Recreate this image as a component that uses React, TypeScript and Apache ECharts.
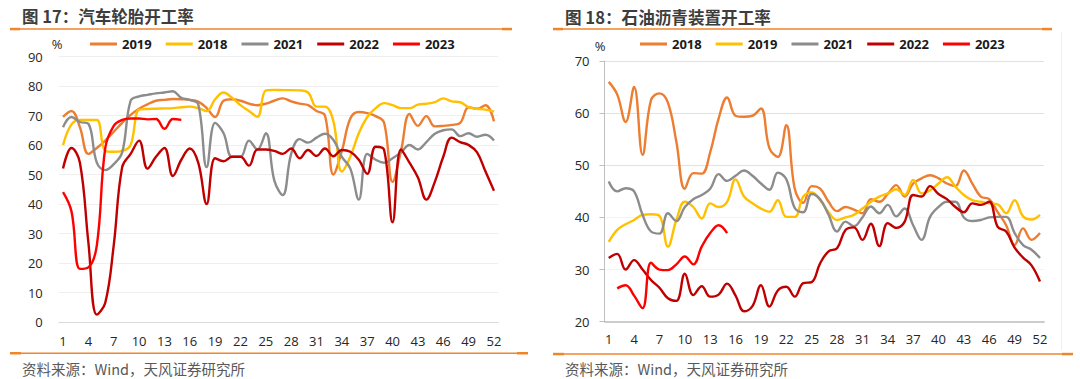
import React, { useEffect, useRef } from 'react';
import * as echarts from 'echarts';

const weeks = ['1','2','3','4','5','6','7','8','9','10','11','12','13','14','15','16','17','18','19','20','21','22','23','24','25','26','27','28','29','30','31','32','33','34','35','36','37','38','39','40','41','42','43','44','45','46','47','48','49','50','51','52'];

// 图17 汽车轮胎开工率 (%)
const tireNames = ['2019', '2018', '2021', '2022', '2023'];
const tire2019 = [69.5,71.5,66,57,59,61.5,64.5,67.5,70.2,72.3,73.8,75,75.3,75.6,75.5,75.3,74.7,72.5,69.5,75,75.5,75,74,73.5,74,75,75.8,74.8,74,73.5,71.5,70,50,58,69,71.2,70.8,69.8,67.5,47.5,58,70.5,66.5,69.8,66.3,66.5,66.8,67.5,72.8,72.3,73.5,68];
const tire2018 = [60,67,68.5,68.5,68.5,58,57.7,58,60,72,72.2,72.3,72.4,72.5,72.8,73,72.5,71.5,75.5,77.8,76,73.5,71.5,69.6,78.5,78.7,78.6,78.6,78.5,77.8,73,73,68,51,56,64,69.5,72.5,74.2,73.5,72.5,72.5,73.7,74,74.5,75.8,74.8,74.5,72.8,72.3,72,71.3];
const tire2021 = [66,69.5,67.8,67.2,54,51.5,53.5,57.5,75,76.5,77,77.5,77.8,78.2,76,75.3,73.8,52.5,67.5,64,56,56,61.5,58.5,64,48,43,57,62,60.8,62.5,63.8,61.7,56,52,41.5,57,55,54,55.5,57.5,60,58.5,61,63.8,65,65.3,63,64,62.8,63.5,61.5];
const tire2022 = [52,59,54,27,2.5,6.5,26,52.5,57,61.5,52,56,59,49.5,55,58.8,54,40,55.5,54.5,56,56,53,58.5,58.5,58,57,58.8,55.5,58.3,56.3,58.8,56.2,58.3,57.7,55,50.2,59.4,58.3,33.8,58.5,54,49,41.5,47.5,56,62.5,61,60,57.5,51,44.5];
const tire2023 = [44,37.5,18,18.5,26,59,66.5,68.5,69,69,68.7,68.8,65.5,68.8,68.5,null,null,null,null,null,null,null,null,null,null,null,null,null,null,null,null,null,null,null,null,null,null,null,null,null,null,null,null,null,null,null,null,null,null,null,null,null];

// 图18 石油沥青装置开工率 (%)
const asphNames = ['2018', '2019', '2021', '2022', '2023'];
const asph2018 = [66,63.6,58.3,65,52,62.5,63.8,62,54.5,45.5,48.5,48.4,52.5,59,63,59.5,59.3,59.5,60.9,53.3,51.6,57.7,45.5,42.8,46,45.5,43,41.2,42,41.5,40.8,43.5,43,44.5,46.2,44,46.5,47.5,48.1,47.5,46.5,46,49,46.5,44,43.5,41,38.5,34.7,37.9,35.7,37];
const asph2019 = [35.3,37.6,38.7,39.5,40.5,40.6,40.3,34.4,39.5,43,42,39.8,42.7,42,43,47.3,44,42.7,41.7,41.1,43.3,40.1,40.1,44,44.8,43.3,41,39.5,40,40.5,41.7,43,44,44.6,45.4,44.3,47.2,44.6,45.2,46.5,47.7,45.9,44.3,43.3,43,42.7,42.5,40.8,43.3,40.2,39.6,40.5];
const asph2021 = [46.9,45,45.6,45,40.5,37.3,36.9,40.8,39.3,42,43.5,44.3,45.5,48.3,47,48,49,48,46.5,45.3,48.6,47.3,41.8,41,44.5,43.5,40.5,37.3,39.2,38.3,40,42.1,40.8,42.4,40.2,41.7,38.5,35.7,40.1,42,43,43,40,39.3,39.5,40,40.1,40.1,37,34.7,33.8,32.2];
const asph2022 = [32.2,33,30,31.8,30,28,26.5,24.5,24,29.2,25.1,26.8,24.8,25.2,27.3,25,22,23,27,22.9,26,26.7,24.8,27.4,27.6,31.2,33.5,34.1,37.6,38.1,35.7,38.8,34.5,38.9,38,39.2,44.3,44,46,44.5,43.5,42,41,42.7,42.4,43,38.2,37.3,34.2,32.3,30.8,27.7];
const asph2023 = [null,26.4,27,25,22.6,31.3,30,29.9,31,32.5,31,34.4,37,38.5,37,null,null,null,null,null,null,null,null,null,null,null,null,null,null,null,null,null,null,null,null,null,null,null,null,null,null,null,null,null,null,null,null,null,null,null,null,null];

const colors = ['#ED7D31', '#FFC000', '#8C8C8C', '#C00000', '#FF0000'];
const ORANGE = '#F0862B';
const NUM_FONT = '"Open Sans", "Noto Sans", sans-serif';
const CJK_FONT = '"Noto Sans CJK SC", "Noto Sans", sans-serif';

function mkSeries(names: string[], datas: (number | null)[][]) {
  return names.map((n, i) => ({
    name: n,
    type: 'line',
    data: datas[i],
    smooth: 0.4,
    symbol: 'none',
    showSymbol: false,
    connectNulls: false,
    color: colors[i],
    itemStyle: { color: colors[i] },
    lineStyle: { width: 2.4, color: colors[i] },
    emphasis: { disabled: true },
  }));
}

function frame(o: {
  title: string; titleX: number; titleY: number; titleSize: number;
  topL: number; topR: number; botL: number; botR: number; botY: number;
  srcX: number; pctX: number; pctY: number; extra?: any[];
}) {
  const els: any[] = [
    { type: 'text', x: o.titleX, y: o.titleY, style: { text: o.title, fill: '#3d3d3d', font: `bold ${o.titleSize}px ${CJK_FONT}`, verticalAlign: 'middle', align: 'left' } },
    { type: 'rect', shape: { x: o.topL, y: 28.3, width: o.topR - o.topL, height: 1.5 }, style: { fill: ORANGE } },
    { type: 'rect', shape: { x: o.topL, y: 27.8, width: 10, height: 2.5 }, style: { fill: ORANGE } },
    { type: 'rect', shape: { x: o.topR - 10, y: 27.8, width: 10, height: 2.5 }, style: { fill: ORANGE } },
    { type: 'rect', shape: { x: o.botL, y: o.botY, width: o.botR - o.botL, height: 1.5 }, style: { fill: ORANGE } },
    { type: 'rect', shape: { x: o.botL, y: o.botY - 0.5, width: 11, height: 2.5 }, style: { fill: ORANGE } },
    { type: 'rect', shape: { x: o.botR - 11, y: o.botY - 0.5, width: 11, height: 2.5 }, style: { fill: ORANGE } },
    { type: 'text', x: o.srcX, y: 368, style: { text: '资料来源：Wind，天风证券研究所', fill: '#595959', font: `14.5px ${CJK_FONT}`, verticalAlign: 'middle', align: 'left' } },
    { type: 'text', x: o.pctX, y: o.pctY, style: { text: '%', fill: '#262626', font: `13px ${NUM_FONT}`, verticalAlign: 'middle', align: 'center' } },
  ];
  return els.concat(o.extra || []);
}

const legendBase = {
  icon: 'rect',
  itemWidth: 27,
  itemHeight: 3,
  itemGap: 14,
  selectedMode: false,
  textStyle: { fontSize: 13, fontWeight: 'bold', color: '#1a1a1a', fontFamily: NUM_FONT },
};

function leftOption(): any {
  return {
    animation: false,
    backgroundColor: '#ffffff',
    grid: { left: 58.8, top: 56.5, width: 439.4, height: 265.5, outerBoundsMode: 'none' },
    legend: { ...legendBase, left: 85, top: 32.5, data: tireNames },
    xAxis: {
      type: 'category', data: weeks, boundaryGap: true,
      axisLine: { lineStyle: { color: '#d9d9d9', width: 1 } },
      axisTick: { length: 5, lineStyle: { color: '#d9d9d9' } },
      axisLabel: { interval: 2, color: '#262626', fontSize: 13, margin: 12, fontFamily: NUM_FONT },
    },
    yAxis: {
      type: 'value', min: 0, max: 90, interval: 10,
      axisLine: { show: false }, axisTick: { show: false },
      splitLine: { lineStyle: { color: '#efefef' } },
      axisLabel: { color: '#262626', fontSize: 13, margin: 16, fontFamily: NUM_FONT },
    },
    series: mkSeries(tireNames, [tire2019, tire2018, tire2021, tire2022, tire2023]),
    graphic: frame({
      title: '图 17：汽车轮胎开工率', titleX: 22, titleY: 15.8, titleSize: 16.5,
      topL: 10, topR: 512, botL: 10, botR: 528, botY: 352.5,
      srcX: 22, pctX: 57, pctY: 43.5,
    }),
  };
}

function rightOption(): any {
  return {
    animation: false,
    backgroundColor: '#ffffff',
    grid: { left: 64.5, top: 61, width: 439.7, height: 260.7, outerBoundsMode: 'none' },
    legend: { ...legendBase, left: 95, top: 32.5, data: asphNames },
    xAxis: {
      type: 'category', data: weeks, boundaryGap: true,
      axisLine: { lineStyle: { color: '#bfbfbf', width: 1.5 } },
      axisTick: { length: 5, lineStyle: { color: '#bfbfbf' } },
      axisLabel: { interval: 2, color: '#262626', fontSize: 13, margin: 11, fontFamily: NUM_FONT },
    },
    yAxis: {
      type: 'value', min: 20, max: 70, interval: 10,
      axisLine: { show: true, lineStyle: { color: '#bfbfbf', width: 1 } },
      axisTick: { show: true, length: 5, lineStyle: { color: '#bfbfbf' } },
      splitLine: { lineStyle: { color: ['#f3f3f3', '#f3f3f3', '#f3f3f3', '#e2e2e2', '#e2e2e2', '#e2e2e2'] } },
      axisLabel: { color: '#262626', fontSize: 13, margin: 15, fontFamily: NUM_FONT },
    },
    series: mkSeries(asphNames, [asph2018, asph2019, asph2021, asph2022, asph2023]),
    graphic: frame({
      title: '图 18：石油沥青装置开工率', titleX: 25, titleY: 17, titleSize: 16.6,
      topL: 13, topR: 512, botL: 13, botR: 533, botY: 353.3,
      srcX: 25, pctX: 60, pctY: 46,
      extra: [
        { type: 'rect', shape: { x: 521, y: 32, width: 1, height: 318 }, style: { fill: '#efefef' } },
      ],
    }),
  };
}

function Chart({ left, option }: { left: number; option: () => any }) {
  const ref = useRef<HTMLDivElement>(null);
  useEffect(() => {
    if (!ref.current) return;
    const chart = echarts.init(ref.current, undefined, { renderer: 'svg' });
    chart.setOption(option());
    return () => chart.dispose();
  }, []);
  return <div ref={ref} style={{ position: 'absolute', left, top: 0, width: 540, height: 379 }} />;
}

export default function App() {
  return (
    <div style={{ position: 'fixed', left: 0, top: 0, width: 1080, height: 379, background: '#ffffff', overflow: 'hidden' }}>
      <Chart left={0} option={leftOption} />
      <Chart left={540} option={rightOption} />
    </div>
  );
}
